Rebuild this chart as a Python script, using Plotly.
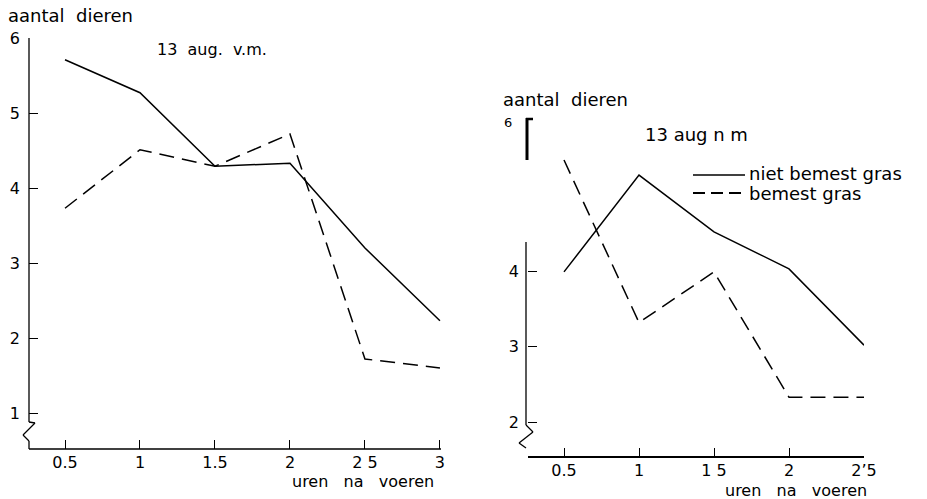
import plotly.graph_objects as go

W, H = 927, 499

# ---- data ----
hours = [0.5, 1.0, 1.5, 2.0, 2.5, 3.0]
vm_niet_bemest = [5.71, 5.27, 4.29, 4.33, 3.20, 2.23]
vm_bemest = [3.73, 4.51, 4.29, 4.72, 1.72, 1.60]

hours_nm = [0.5, 1.0, 1.5, 2.0, 2.5]
nm_niet_bemest = [3.99, 5.27, 4.52, 4.03, 3.02]
nm_bemest = [5.47, 3.32, 3.99, 2.33, 2.33]

left_xticks = [0.5, 1, 1.5, 2, 2.5, 3]
left_xtext = ["0.5", "1", "1.5", "2", "2 5", "3"]
left_yticks = [1, 2, 3, 4, 5, 6]
right_xticks = [0.5, 1, 1.5, 2, 2.5]
right_xtext = ["0.5", "1", "1 5", "2", "2\u20195"]
right_yticks = [2, 3, 4]
series_names = ["niet bemest gras", "bemest gras"]

FONT = "DejaVu Sans"
BLACK = "black"
DASH = "15px,8px"


def fx(px):
    return px / W


def fy(py):
    return 1 - py / H


fig = go.Figure()

fig.add_trace(go.Scatter(x=hours, y=vm_niet_bemest, mode="lines", xaxis="x", yaxis="y",
                         line=dict(color=BLACK, width=1.5), showlegend=False,
                         name=series_names[0]))
fig.add_trace(go.Scatter(x=hours, y=vm_bemest, mode="lines", xaxis="x", yaxis="y",
                         line=dict(color=BLACK, width=1.5, dash=DASH), showlegend=False,
                         name=series_names[1]))
fig.add_trace(go.Scatter(x=hours_nm, y=nm_niet_bemest, mode="lines", xaxis="x2", yaxis="y2",
                         line=dict(color=BLACK, width=1.5), showlegend=False,
                         name=series_names[0]))
fig.add_trace(go.Scatter(x=hours_nm, y=nm_bemest, mode="lines", xaxis="x2", yaxis="y2",
                         line=dict(color=BLACK, width=1.5, dash=DASH), showlegend=False,
                         name=series_names[1]))

axis_common = dict(showgrid=False, zeroline=False, showline=False, ticks="inside",
                   ticklen=9, tickwidth=1.2, tickcolor=BLACK, automargin=False,
                   tickfont=dict(family=FONT, size=16, color=BLACK))

fig.update_layout(
    width=W, height=H,
    margin=dict(l=0, r=0, t=0, b=0, autoexpand=False),
    paper_bgcolor="white", plot_bgcolor="white",
    font=dict(family=FONT, color=BLACK),
    showlegend=False,
    xaxis=dict(domain=[fx(29), fx(441)], range=[0.26, 3.007], anchor="y",
               tickvals=left_xticks, ticktext=left_xtext, ticklabelstandoff=2, **axis_common),
    yaxis=dict(domain=[fy(449), fy(38)], range=[0.52, 6.0], anchor="x",
               tickvals=left_yticks, ticklabelstandoff=8, **axis_common),
    xaxis2=dict(domain=[fx(528), fx(864)], range=[0.26, 2.5], anchor="y2",
                tickvals=right_xticks, ticktext=right_xtext, ticklabelstandoff=2, **axis_common),
    yaxis2=dict(domain=[fy(457), fy(120)], range=[1.54, 6.0], anchor="x2",
                tickvals=right_yticks, ticklabelstandoff=8, **axis_common),
)

shapes = []


def seg(x0, y0, x1, y1, w=1.3, dash=None):
    ln = dict(color=BLACK, width=w)
    if dash:
        ln["dash"] = dash
    shapes.append(dict(type="line", xref="paper", yref="paper",
                       x0=fx(x0), y0=fy(y0), x1=fx(x1), y1=fy(y1), line=ln))


# left axes with break symbol
seg(29, 38, 29, 422)
seg(29, 422, 35, 423)
seg(35, 423, 23, 435)
seg(23, 435, 29, 441)
seg(29, 441, 29, 449)
seg(29, 449, 441, 449)
# right axes: top bracket, axis line with break symbol
seg(527, 118, 527, 160, w=3)
seg(526, 119, 533, 119, w=2.5)
seg(526, 242, 526, 425)
seg(526, 425, 533, 432)
seg(533, 432, 519, 443)
seg(519, 443, 526, 448)
seg(528, 457, 864, 457, w=2)
# legend samples
seg(693, 175, 745, 175, w=1.5)
seg(693, 193, 745, 193, w=1.8, dash="12px,6px")

fig.update_layout(shapes=shapes)

ann = []


def text(px, py, s, size, xanchor="left"):
    ann.append(dict(x=fx(px), y=fy(py), xref="paper", yref="paper", text=s,
                    showarrow=False, xanchor=xanchor, yanchor="middle",
                    font=dict(family=FONT, size=size, color=BLACK)))


NB = "\u00a0"
text(6, 15, "aantal" + NB * 2 + "dieren", 18)
text(155, 50, "13" + NB * 2 + "aug." + NB * 2 + "v.m.", 16)
text(436, 481, "uren" + NB * 3 + "na" + NB * 3 + "voeren", 16, xanchor="right")
text(501, 100, "aantal" + NB * 2 + "dieren", 18)
text(508, 122, "6", 13, xanchor="center")
text(643, 135, "13 aug n m", 18)
text(747, 173, series_names[0], 18)
text(747, 193, series_names[1], 18)
text(869, 490, "uren" + NB * 3 + "na" + NB * 3 + "voeren", 16, xanchor="right")

fig.update_layout(annotations=ann)

fig.write_html("out.html", config={"displayModeBar": False},
               post_script="document.body.style.margin='0';")
